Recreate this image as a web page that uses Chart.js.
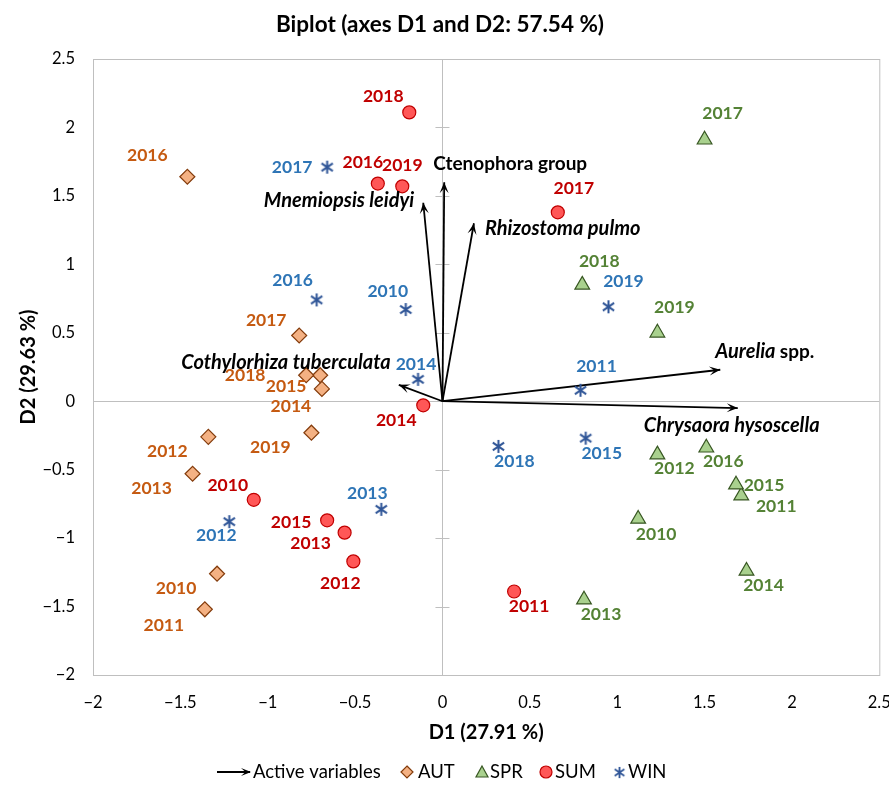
<!DOCTYPE html>
<html>
<head>
<meta charset="utf-8">
<title>Biplot</title>
<script src="https://cdn.jsdelivr.net/npm/chart.js@4.4.1/dist/chart.umd.min.js"></script>
<style>
  html, body { margin: 0; padding: 0; background: #fff; }
</style>
</head>
<body>
<canvas id="biplot" width="889" height="785"></canvas>
<script>
// observations, one value per year
var years = ['2010', '2011', '2012', '2013', '2014', '2015', '2016', '2017', '2018', '2019'];

var autX = [-1.29, -1.36, -1.34, -1.43, -0.69, -0.70, -1.46, -0.82, -0.78, -0.75];
var autY = [-1.26, -1.52, -0.26, -0.53, 0.09, 0.19, 1.64, 0.48, 0.19, -0.23];

var sprX = [1.12, 1.71, 1.23, 0.81, 1.74, 1.68, 1.51, 1.50, 0.80, 1.23];
var sprY = [-0.86, -0.69, -0.39, -1.45, -1.24, -0.61, -0.34, 1.91, 0.85, 0.50];

var sumX = [-1.08, 0.41, -0.51, -0.56, -0.11, -0.66, -0.37, 0.66, -0.19, -0.23];
var sumY = [-0.72, -1.39, -1.17, -0.96, -0.03, -0.87, 1.59, 1.38, 2.11, 1.57];

var winX = [-0.21, 0.79, -1.22, -0.35, -0.14, 0.82, -0.72, -0.66, 0.32, 0.95];
var winY = [0.67, 0.08, -0.88, -0.79, 0.16, -0.27, 0.74, 1.71, -0.33, 0.69];

// active variables (arrows from the origin)
var varNames = ['Ctenophora group', 'Mnemiopsis leidyi', 'Rhizostoma pulmo', 'Aurelia spp.', 'Chrysaora hysoscella', 'Cothylorhiza tuberculata'];
var varX = [0.01, -0.11, 0.18, 1.59, 1.69, -0.25];
var varY = [1.60, 1.45, 1.30, 0.23, -0.05, 0.12];

// axes
var axisMin = -2;
var axisMax = 2.5;
var tickStep = 0.5;

// where the year labels sit, in pixels from the marker
var autLabelPos = [[-41, 15], [-41, 16], [-41, 15], [-41, 15], [-31, 17], [-34, 11], [-40, -21], [-33, -15], [-61, 0], [-41, 15]];
var sprLabelPos = [[18, 15], [35, 11], [17, 14], [17, 15], [17, 14], [28, 1], [17, 14], [18, -26], [17, -24], [17, -25]];
var sumLabelPos = [[-26, -14], [15, 15], [-13, 22], [-34, 11], [-27, 15], [-36, 2], [-15, -21], [16, -24], [-26, -16], [0, -21]];
var winLabelPos = [[-18, -18], [16, -24], [-13, 14], [-14, -16], [-2, -15], [16, 15], [-24, -20], [-35, 0], [16, 15], [15, -25]];
// variable labels: dx, dy from arrow tip, text align
var varLabelPos = [[-11, -18, 'left'], [-9, -2, 'right'], [11, 5, 'left'], [-5, -18, 'left'], [-94, 17, 'left'], [-8, -22, 'right']];

var FONT = 'Lato, "Open Sans", sans-serif';
var GRAY = '#BFBFBF';

function toPoints(xs, ys) {
    return xs.map(function (x, i) { return {x: x, y: ys[i]}; });
}

// excel-like star marker: an X with a vertical bar
function makeStar(size, color, lw) {
    var c = document.createElement('canvas');
    c.width = size; c.height = size;
    var g = c.getContext('2d');
    var m = size / 2, r = size / 2 - 1;
    g.strokeStyle = color;
    g.lineWidth = lw;
    g.beginPath();
    g.moveTo(m, m - r); g.lineTo(m, m + r);
    g.moveTo(m - r * 0.87, m - r * 0.6); g.lineTo(m + r * 0.87, m + r * 0.6);
    g.moveTo(m - r * 0.87, m + r * 0.6); g.lineTo(m + r * 0.87, m - r * 0.6);
    g.stroke();
    return c;
}
var starImg = makeStar(15, '#2F5597', 2);

var series = [
    {name: 'AUT', x: autX, y: autY, pos: autLabelPos, labelColor: '#C55A11'},
    {name: 'SPR', x: sprX, y: sprY, pos: sprLabelPos, labelColor: '#548235'},
    {name: 'SUM', x: sumX, y: sumY, pos: sumLabelPos, labelColor: '#C00000'},
    {name: 'WIN', x: winX, y: winY, pos: winLabelPos, labelColor: '#2E75B6'}
];

function arrowHead(ctx, x0, y0, x1, y1, len, half) {
    var a = Math.atan2(y1 - y0, x1 - x0);
    var c = Math.cos(a), s = Math.sin(a);
    ctx.beginPath();
    ctx.moveTo(x1, y1);
    ctx.lineTo(x1 - len * c + half * s, y1 - len * s - half * c);
    ctx.lineTo(x1 - len * 0.55 * c, y1 - len * 0.55 * s);
    ctx.lineTo(x1 - len * c - half * s, y1 - len * s + half * c);
    ctx.closePath();
    ctx.fill();
}

var datasets = [
    {label: 'AUT', data: toPoints(autX, autY), pointStyle: 'rectRot', pointRadius: 7.5,
        backgroundColor: '#F4B183', borderColor: '#843C0C', borderWidth: 1.2},
    {label: 'SPR', data: toPoints(sprX, sprY), pointStyle: 'triangle', pointRadius: 8.5,
        backgroundColor: '#A9D18E', borderColor: '#385723', borderWidth: 1.2},
    {label: 'SUM', data: toPoints(sumX, sumY), pointStyle: 'circle', pointRadius: 6.5,
        backgroundColor: '#FF5757', borderColor: '#C00000', borderWidth: 1.2},
    {label: 'WIN', data: toPoints(winX, winY), pointStyle: starImg, pointRadius: 7,
        backgroundColor: '#2F5597', borderColor: '#2F5597'}
];
varNames.forEach(function (n, i) {
    datasets.push({
        label: n, data: [{x: 0, y: 0}, {x: varX[i], y: varY[i]}],
        showLine: true, borderColor: '#000', borderWidth: 1.8, pointRadius: 0
    });
});

var biplotPlugin = {
    id: 'biplot',
    beforeDatasetsDraw: function (chart) {
        var ctx = chart.ctx, a = chart.chartArea;
        var xs = chart.scales.x, ys = chart.scales.y;
        var x0 = xs.getPixelForValue(0), y0 = ys.getPixelForValue(0);
        ctx.save();
        ctx.strokeStyle = GRAY;
        ctx.lineWidth = 1;
        ctx.strokeRect(a.left + 0.5, a.top + 0.5, a.right - a.left, a.bottom - a.top);
        ctx.beginPath();
        ctx.moveTo(Math.round(x0) + 0.5, a.top);
        ctx.lineTo(Math.round(x0) + 0.5, a.bottom);
        ctx.moveTo(a.left, Math.round(y0) + 0.5);
        ctx.lineTo(a.right, Math.round(y0) + 0.5);
        for (var v = axisMin + tickStep; v < axisMax; v += tickStep) {
            var yp = Math.round(ys.getPixelForValue(v)) + 0.5;
            ctx.moveTo(x0 - 7, yp);
            ctx.lineTo(x0 + 7, yp);
        }
        ctx.stroke();
        ctx.restore();
    },
    afterDatasetsDraw: function (chart) {
        var ctx = chart.ctx;
        var xs = chart.scales.x, ys = chart.scales.y;
        var x0 = xs.getPixelForValue(0), y0 = ys.getPixelForValue(0);
        ctx.save();
        // arrow heads
        ctx.fillStyle = '#000';
        for (var i = 0; i < varNames.length; i++) {
            var tx = xs.getPixelForValue(varX[i]), ty = ys.getPixelForValue(varY[i]);
            arrowHead(ctx, x0, y0, tx, ty, 11, 4.5);
        }
        // year labels
        ctx.textAlign = 'center';
        ctx.textBaseline = 'middle';
        ctx.font = 'bold 17.5px ' + FONT;
        series.forEach(function (s) {
            ctx.fillStyle = s.labelColor;
            for (var k = 0; k < years.length; k++) {
                var px = xs.getPixelForValue(s.x[k]) + s.pos[k][0];
                var py = ys.getPixelForValue(s.y[k]) + s.pos[k][1];
                ctx.fillText(years[k], px, py);
            }
        });
        // variable labels
        ctx.fillStyle = '#000';
        for (var j = 0; j < varNames.length; j++) {
            var lx = xs.getPixelForValue(varX[j]) + varLabelPos[j][0];
            var ly = ys.getPixelForValue(varY[j]) + varLabelPos[j][1];
            var name = varNames[j];
            ctx.textAlign = varLabelPos[j][2];
            if (name === 'Ctenophora group') {
                ctx.font = 'bold 19px ' + FONT;
                ctx.fillText(name, lx, ly);
            } else if (name === 'Aurelia spp.') {
                ctx.textAlign = 'left';
                ctx.font = 'italic bold 20px ' + FONT;
                ctx.fillText('Aurelia', lx, ly);
                var w = ctx.measureText('Aurelia ').width;
                ctx.font = 'bold 19px ' + FONT;
                ctx.fillText('spp.', lx + w, ly);
            } else {
                ctx.font = 'italic bold 20px ' + FONT;
                ctx.fillText(name, lx, ly);
            }
        }
        ctx.restore();
    },
    afterDraw: function (chart) {
        // legend along the bottom
        var ctx = chart.ctx, y = 772;
        ctx.save();
        ctx.font = '18.5px ' + FONT;
        ctx.textAlign = 'left';
        ctx.textBaseline = 'middle';
        ctx.fillStyle = '#000';
        ctx.strokeStyle = '#000';
        ctx.lineWidth = 1.8;
        ctx.beginPath();
        ctx.moveTo(217, y); ctx.lineTo(250, y);
        ctx.stroke();
        arrowHead(ctx, 217, y, 251, y, 10, 4);
        ctx.fillText('Active variables', 253, y);

        ctx.lineWidth = 1.2;
        // AUT diamond
        ctx.beginPath();
        ctx.moveTo(407, y - 6); ctx.lineTo(413, y); ctx.lineTo(407, y + 6); ctx.lineTo(401, y);
        ctx.closePath();
        ctx.fillStyle = '#F4B183'; ctx.fill();
        ctx.strokeStyle = '#843C0C'; ctx.stroke();
        ctx.fillStyle = '#000';
        ctx.fillText('AUT', 418, y);
        // SPR triangle
        ctx.beginPath();
        ctx.moveTo(482, y - 6); ctx.lineTo(488, y + 5); ctx.lineTo(476, y + 5);
        ctx.closePath();
        ctx.fillStyle = '#A9D18E'; ctx.fill();
        ctx.strokeStyle = '#385723'; ctx.stroke();
        ctx.fillStyle = '#000';
        ctx.fillText('SPR', 490, y);
        // SUM circle
        ctx.beginPath();
        ctx.arc(546, y, 6, 0, Math.PI * 2);
        ctx.fillStyle = '#FF5757'; ctx.fill();
        ctx.strokeStyle = '#C00000'; ctx.stroke();
        ctx.fillStyle = '#000';
        ctx.fillText('SUM', 555, y);
        // WIN star
        ctx.drawImage(starImg, 619 - 6, y - 6, 13, 13);
        ctx.fillText('WIN', 628, y);
        ctx.restore();
    }
};

function minusSign(v) {
    return String(v).replace('-', '\u2212');
}

new Chart(document.getElementById('biplot').getContext('2d'), {
    type: 'scatter',
    data: {datasets: datasets},
    options: {
        responsive: false,
        animation: false,
        events: [],
        layout: {padding: {left: 0, right: 9, top: 0, bottom: 0}},
        plugins: {
            legend: {display: false},
            tooltip: {enabled: false},
            title: {
                display: true,
                text: 'Biplot (axes D1 and D2: 57.54 %)',
                color: '#000',
                font: {family: FONT, size: 22.5, weight: 'bold'},
                padding: {top: 11, bottom: 21}
            }
        },
        scales: {
            x: {
                type: 'linear', min: axisMin, max: axisMax,
                grid: {display: false, drawTicks: false},
                border: {display: false},
                ticks: {stepSize: tickStep, padding: 18, color: '#000', font: {family: FONT, size: 16.5},
                    callback: function (v) { return minusSign(v); }},
                title: {display: true, text: 'D1 (27.91 %)', color: '#000',
                    font: {family: FONT, size: 20, weight: 'bold'}, padding: {top: 0, bottom: 40}},
                afterFit: function (scale) {
                    scale.height = 110;
                    scale.paddingLeft = 0;
                    scale.paddingRight = 0;
                }
            },
            y: {
                type: 'linear', min: axisMin, max: axisMax,
                grid: {display: false, drawTicks: false},
                border: {display: false},
                ticks: {stepSize: tickStep, padding: 18, color: '#000', font: {family: FONT, size: 16.5},
                    callback: function (v) { return minusSign(v); }},
                title: {display: true, text: 'D2 (29.63 %)', color: '#000',
                    font: {family: FONT, size: 20, weight: 'bold'}, padding: {top: 17, bottom: 0}},
                afterFit: function (scale) {
                    scale.width = 93;
                }
            }
        }
    },
    plugins: [biplotPlugin]
});
</script>
</body>
</html>
